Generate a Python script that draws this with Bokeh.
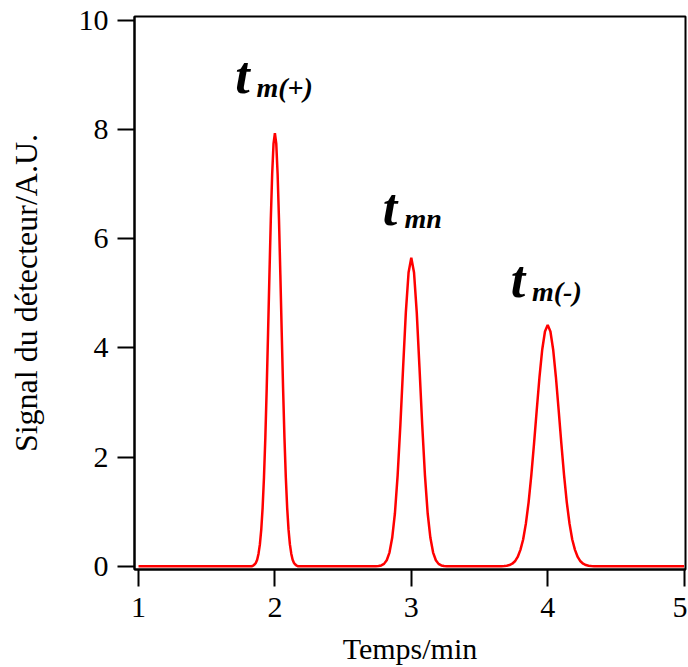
from bokeh.plotting import figure
from bokeh.models import Range1d, FixedTicker, Label
from bokeh.embed import file_html
from bokeh.resources import INLINE

# ---- data ----
time_min = [
    1.00,
    1.83, 1.84, 1.85, 1.86, 1.87, 1.88, 1.89, 1.90, 1.91, 1.92, 1.93, 1.94, 1.95, 1.96, 1.97, 1.98, 1.99,
    2.00,
    2.01, 2.02, 2.03, 2.04, 2.05, 2.06, 2.07, 2.08, 2.09, 2.10, 2.11, 2.12, 2.13, 2.14, 2.15, 2.16, 2.17,
    2.74, 2.76, 2.78, 2.80, 2.82, 2.84, 2.86, 2.88, 2.90, 2.92, 2.94, 2.96, 2.98,
    3.00,
    3.02, 3.04, 3.06, 3.08, 3.10, 3.12, 3.14, 3.16, 3.18, 3.20, 3.22, 3.24, 3.26,
    3.66, 3.68, 3.70, 3.72, 3.74, 3.76, 3.78, 3.80, 3.82, 3.84, 3.86, 3.88, 3.90, 3.92, 3.94, 3.96, 3.98,
    4.00,
    4.02, 4.04, 4.06, 4.08, 4.10, 4.12, 4.14, 4.16, 4.18, 4.20, 4.22, 4.24, 4.26, 4.28, 4.30, 4.32, 4.34,
    5.00,
]
signal = [
    0.0,
    0.0, 0.01, 0.03, 0.06, 0.12, 0.23, 0.40, 0.67, 1.07, 1.63, 2.36, 3.26, 4.28, 5.34, 6.35, 7.18, 7.74,
    7.93,
    7.74, 7.18, 6.35, 5.34, 4.28, 3.26, 2.36, 1.63, 1.07, 0.67, 0.40, 0.23, 0.12, 0.06, 0.03, 0.01, 0.0,
    0.0, 0.005, 0.015, 0.043, 0.11, 0.25, 0.52, 0.97, 1.67, 2.59, 3.64, 4.65, 5.38,
    5.65,
    5.38, 4.65, 3.64, 2.59, 1.67, 0.97, 0.52, 0.25, 0.11, 0.043, 0.015, 0.005, 0.0,
    0.0, 0.004, 0.010, 0.022, 0.046, 0.09, 0.17, 0.30, 0.49, 0.78, 1.17, 1.67, 2.25, 2.87, 3.47, 3.97, 4.30,
    4.42,
    4.30, 3.97, 3.47, 2.87, 2.25, 1.67, 1.17, 0.78, 0.49, 0.30, 0.17, 0.09, 0.046, 0.022, 0.010, 0.004, 0.0,
    0.0,
]

x_ticks = [1, 2, 3, 4, 5]
y_ticks = [0, 2, 4, 6, 8, 10]

peak_main = ["t", "t", "t"]
peak_sub = ["m(+)", "mn", "m(-)"]
peak_main_x = [1.71, 2.79, 3.73]
peak_main_y = [8.99, 6.57, 5.26]
peak_sub_x = [1.865, 2.95, 3.885]
peak_sub_y = [8.76, 6.36, 5.04]

FONT = "Liberation Serif"

p = figure(width=687, height=667, output_backend="svg", toolbar_location=None,
           x_range=Range1d(0.9707, 5.0103), y_range=Range1d(-0.060, 10.068),
           min_border_left=134, min_border_right=2, min_border_top=16, min_border_bottom=98)

p.line(time_min, signal, line_color="#ff0000", line_width=2.5)

p.xgrid.visible = False
p.ygrid.visible = False
p.outline_line_color = "black"
p.outline_line_width = 2
p.outline_line_alpha = 1

for ax, ticks in ((p.xaxis[0], x_ticks), (p.yaxis[0], y_ticks)):
    ax.ticker = FixedTicker(ticks=ticks)
    ax.axis_line_width = 2
    ax.axis_line_color = "black"
    ax.major_tick_line_width = 2
    ax.major_tick_line_color = "black"
    ax.major_tick_out = 17
    ax.major_tick_in = 0
    ax.minor_tick_line_color = None
    ax.major_label_text_font = FONT
    ax.major_label_text_font_size = "30px"
    ax.major_label_text_color = "black"
    ax.axis_label_text_font = FONT
    ax.axis_label_text_font_style = "normal"
    ax.axis_label_text_color = "black"

p.xaxis.major_label_standoff = 11
p.yaxis.major_label_standoff = 9
p.xaxis.axis_label = "Temps/min"
p.xaxis.axis_label_text_font_size = "30px"
p.xaxis.axis_label_standoff = 12
p.yaxis.axis_label = "Signal du détecteur/A.U."
p.yaxis.axis_label_text_font_size = "32px"
p.yaxis.axis_label_standoff = 32

for i in range(3):
    p.add_layout(Label(x=peak_main_x[i], y=peak_main_y[i], text=peak_main[i],
                       text_font=FONT, text_font_size="52px", text_font_style="bold italic",
                       text_color="black", text_baseline="alphabetic"))
    p.add_layout(Label(x=peak_sub_x[i], y=peak_sub_y[i], text=peak_sub[i],
                       text_font=FONT, text_font_size="28px", text_font_style="bold italic",
                       text_color="black", text_baseline="alphabetic"))

open("out.html", "w").write(file_html(p, INLINE))
